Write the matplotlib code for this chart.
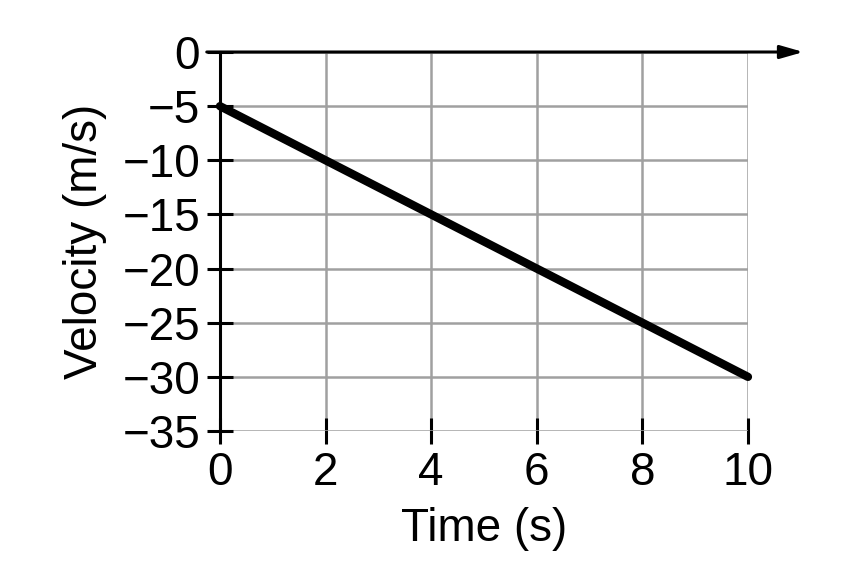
import numpy as np
import matplotlib
matplotlib.use("Agg")
from matplotlib import pyplot as plt

# data
time_s = [0, 10]
velocity = [-5, -30]
x_ticks = [0, 2, 4, 6, 8, 10]
y_ticks = [0, -5, -10, -15, -20, -25, -30, -35]

plt.rcParams['font.family'] = ['Liberation Sans', 'DejaVu Sans']

fig = plt.figure(figsize=(8.65, 5.69), dpi=100)
ax = fig.add_axes([0.2543, 0.2425, 0.6104, 0.6661])

ax.set_xlim(0, 10)
ax.set_ylim(-35, 0)

grey = '#a0a0a0'
ax.grid(True, color=grey, linewidth=1.8)
ax.set_axisbelow(True)

for side in ['top', 'right', 'bottom']:
    ax.spines[side].set_visible(False)
ax.spines['left'].set_linewidth(2.2)
ax.spines['left'].set_zorder(4)

ax.set_xticks(x_ticks)
ax.set_yticks(y_ticks)
ax.tick_params(axis='both', direction='inout', length=18.5, width=2.2,
               labelsize=33, colors='black')
ax.tick_params(axis='y', pad=5)
ax.tick_params(axis='x', pad=5)

# horizontal axis at zero with arrow
ax.annotate('', xy=(11.05, 0), xytext=(-0.25, 0), xycoords='data',
            arrowprops=dict(arrowstyle='-|>,head_length=1.4,head_width=0.4',
                            color='black', lw=2.2, shrinkA=0, shrinkB=0),
            annotation_clip=False, zorder=5)

ax.plot(time_s, velocity, color='black', linewidth=6,
        solid_capstyle='round', zorder=6, clip_on=False)

ax.set_xlabel('Time (s)', fontsize=33, labelpad=9)
ax.set_ylabel('Velocity (m/s)', fontsize=33, labelpad=11)

plt.savefig('out.png', dpi=100)
